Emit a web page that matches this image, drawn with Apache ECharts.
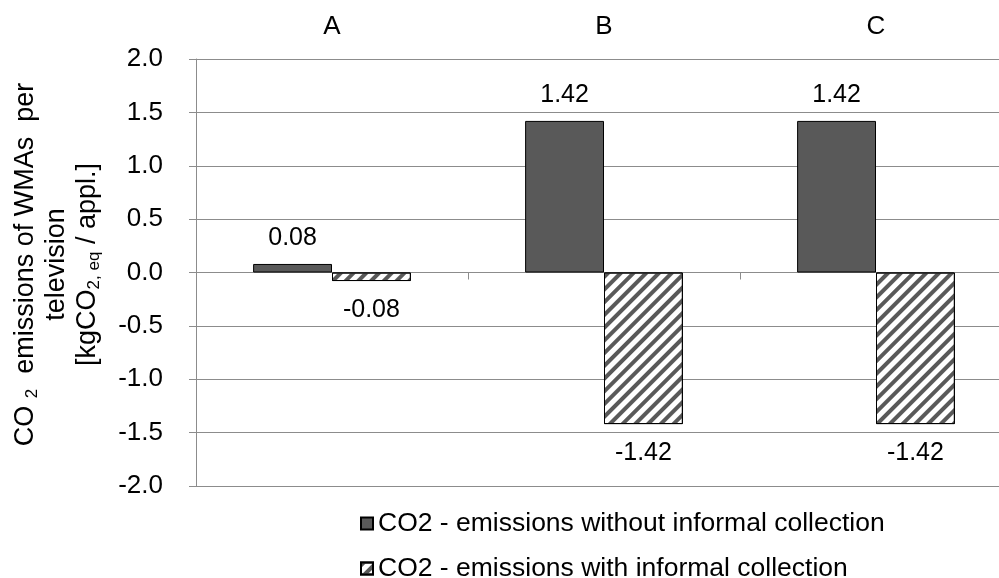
<!DOCTYPE html>
<html>
<head>
<meta charset="utf-8">
<script src="https://cdn.jsdelivr.net/npm/echarts@6/dist/echarts.min.js"></script>
<style>
  html, body { margin: 0; padding: 0; background: #fff; overflow: hidden; width: 999px; height: 578px; }
  /* the plot area runs slightly past the right edge of the page */
  #chart { width: 1012px; height: 578px; }
</style>
</head>
<body>
<div id="chart"></div>
<script>
// Scenario categories
const categories = ['A', 'B', 'C'];
// CO2 emissions per television [kgCO2,eq / appl.]
const withoutInformal = [0.08, 1.42, 1.42];
const withInformal = [-0.08, -1.42, -1.42];
const seriesNames = [
  'CO2 - emissions without informal collection',
  'CO2 - emissions with informal collection'
];

const FONT = '"Liberation Sans", Arial, sans-serif';
const GRID_GRAY = '#8c8c8c';

const chart = echarts.init(document.getElementById('chart'), null, { renderer: 'canvas' });

// one legend block per series, stacked below the plot
const legendBase = {
  orient: 'horizontal',
  left: 355,
  itemWidth: 12,
  itemHeight: 12,
  icon: 'rect',
  textStyle: { fontFamily: FONT, fontSize: 26.5, color: '#000' }
};

chart.setOption({
  animation: false,
  backgroundColor: '#fff',
  textStyle: { fontFamily: FONT, color: '#000' },
  grid: { left: 196, top: 59, right: 0, bottom: 92, containLabel: false },
  legend: [
    Object.assign({}, legendBase, { top: 505, data: [seriesNames[0]] }),
    Object.assign({}, legendBase, { top: 550, data: [seriesNames[1]] })
  ],
  xAxis: [
    {
      type: 'category',
      data: categories,
      axisLine: { onZero: true, lineStyle: { color: GRID_GRAY, width: 1 } },
      axisTick: { show: true, length: 7, interval: 0, lineStyle: { color: GRID_GRAY } },
      axisLabel: { show: false },
      splitLine: { show: false }
    },
    {
      type: 'category',
      position: 'top',
      data: categories,
      axisLine: { show: false },
      axisTick: { show: false },
      axisLabel: { show: true, margin: 19, fontSize: 26, fontFamily: FONT, color: '#000' }
    }
  ],
  yAxis: {
    type: 'value',
    min: -2,
    max: 2,
    interval: 0.5,
    axisLine: { show: true, lineStyle: { color: GRID_GRAY, width: 1 } },
    axisTick: { show: true, length: 7, lineStyle: { color: GRID_GRAY } },
    splitLine: { show: true, lineStyle: { color: GRID_GRAY, width: 1 } },
    axisLabel: {
      margin: 33,
      fontSize: 26,
      fontFamily: FONT,
      color: '#000',
      formatter: v => v.toFixed(1)
    },
    name: 'CO {sub|2}  emissions of WMAs  per\ntelevision\n[kgCO{sub|2, eq} / appl.]',
    nameLocation: 'middle',
    nameRotate: 90,
    nameGap: 93,
    nameTextStyle: {
      fontFamily: FONT,
      fontSize: 27,
      lineHeight: 31,
      color: '#000',
      align: 'center',
      padding: [0, 0, 0, 16],
      rich: {
        sub: { fontFamily: FONT, fontSize: 17, lineHeight: 17, verticalAlign: 'bottom', padding: [16, 0, 0, 0] }
      }
    }
  },
  series: [
    {
      name: seriesNames[0],
      type: 'bar',
      xAxisIndex: 0,
      data: withoutInformal,
      barGap: '0%',
      barCategoryGap: '42%',
      itemStyle: { color: '#595959', borderColor: '#000', borderWidth: 1 },
      label: {
        show: true,
        position: 'top',
        distance: 13,
        fontFamily: FONT,
        fontSize: 25,
        color: '#000'
      }
    },
    {
      name: seriesNames[1],
      type: 'bar',
      xAxisIndex: 0,
      data: withInformal,
      barGap: '0%',
      barCategoryGap: '42%',
      itemStyle: {
        color: '#ffffff',
        borderColor: '#000',
        borderWidth: 1,
        decal: {
          symbol: 'rect',
          symbolSize: 1,
          color: '#595959',
          dashArrayX: [1, 0],
          dashArrayY: [4, 5],
          rotation: -Math.PI / 4
        }
      },
      label: {
        show: true,
        position: 'bottom',
        distance: 17,
        fontFamily: FONT,
        fontSize: 25,
        color: '#000'
      }
    }
  ]
});
</script>
</body>
</html>
